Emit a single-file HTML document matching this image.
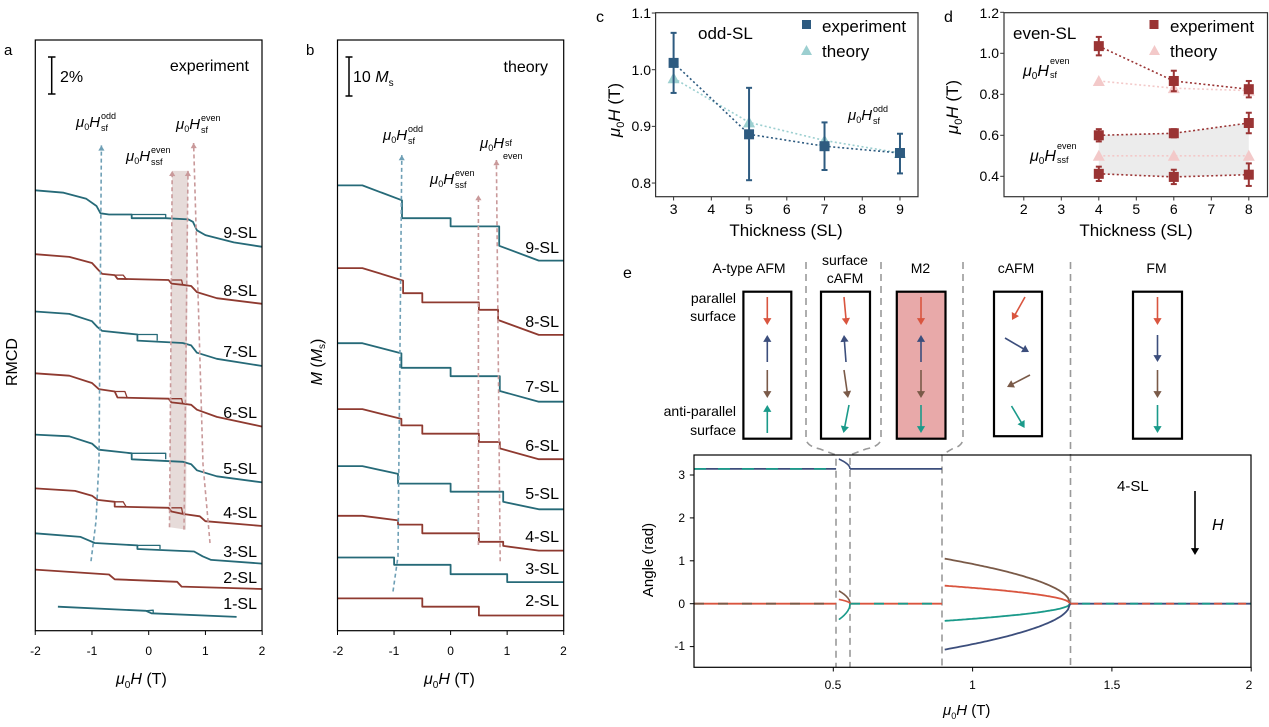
<!DOCTYPE html>
<html><head><meta charset="utf-8">
<style>
html,body{margin:0;padding:0;background:#fff;}
svg{display:block;font-family:"Liberation Sans",Arial,sans-serif;}
</style></head>
<body>
<svg id="s" width="1269" height="727" viewBox="0 0 1269 727" xmlns="http://www.w3.org/2000/svg">
<rect width="1269" height="727" fill="#fff"/>
<g id="dyn"></g>

<text x="4" y="55" font-size="15">a</text>
<line x1="51.7" y1="57" x2="51.7" y2="94" stroke="#000" stroke-width="1.5"/>
<line x1="48" y1="57" x2="55.5" y2="57" stroke="#000" stroke-width="1.5"/>
<line x1="48" y1="94" x2="55.5" y2="94" stroke="#000" stroke-width="1.5"/>
<text x="60" y="82" font-size="16">2%</text>
<text x="249" y="71" font-size="16" text-anchor="end">experiment</text>
<text font-size="16" text-anchor="middle" transform="translate(17,362) rotate(-90)">RMCD</text>
<g font-size="16" text-anchor="end">
<text x="257" y="238">9-SL</text><text x="257" y="296">8-SL</text><text x="257" y="357">7-SL</text>
<text x="257" y="418">6-SL</text><text x="257" y="474">5-SL</text><text x="257" y="518">4-SL</text>
<text x="257" y="557">3-SL</text><text x="257" y="583">2-SL</text><text x="257" y="609">1-SL</text>
</g>
<g font-size="12" text-anchor="middle">
<text x="35.5" y="655">-2</text><text x="92" y="655">-1</text><text x="148.7" y="655">0</text><text x="205.4" y="655">1</text><text x="262" y="655">2</text>
</g>
<text x="116" y="684" font-size="16" font-style="italic">μ<tspan font-size="10" dy="4" font-style="normal">0</tspan><tspan dy="-4">H</tspan><tspan font-style="normal"> (T)</tspan></text>
<text x="76" y="127" font-size="15" font-style="italic">μ<tspan font-size="9" dy="3" font-style="normal">0</tspan><tspan dy="-3">H</tspan></text>
<text x="101" y="119" font-size="9">odd</text><text x="101" y="131" font-size="9">sf</text>
<text x="126" y="161" font-size="15" font-style="italic">μ<tspan font-size="9" dy="3" font-style="normal">0</tspan><tspan dy="-3">H</tspan></text>
<text x="151" y="153" font-size="9">even</text><text x="151" y="165" font-size="9">ssf</text>
<text x="176" y="129" font-size="15" font-style="italic">μ<tspan font-size="9" dy="3" font-style="normal">0</tspan><tspan dy="-3">H</tspan></text>
<text x="201" y="121" font-size="9">even</text><text x="201" y="133" font-size="9">sf</text>

<text x="306" y="55" font-size="15">b</text>
<line x1="349" y1="57" x2="349" y2="96" stroke="#000" stroke-width="1.5"/>
<line x1="345.5" y1="57" x2="352.5" y2="57" stroke="#000" stroke-width="1.5"/>
<line x1="345.5" y1="96" x2="352.5" y2="96" stroke="#000" stroke-width="1.5"/>
<text x="353" y="82" font-size="16">10 <tspan font-style="italic">M</tspan><tspan font-size="10" dy="4">s</tspan></text>
<text x="548" y="72" font-size="16" text-anchor="end">theory</text>
<text font-size="16" text-anchor="middle" transform="translate(322,362) rotate(-90)"><tspan font-style="italic">M</tspan> (<tspan font-style="italic">M</tspan><tspan font-size="10" dy="3">s</tspan><tspan dy="-3">)</tspan></text>
<g font-size="16" text-anchor="end">
<text x="559" y="253">9-SL</text><text x="559" y="327">8-SL</text><text x="559" y="392">7-SL</text>
<text x="559" y="451">6-SL</text><text x="559" y="499">5-SL</text><text x="559" y="542">4-SL</text>
<text x="559" y="574">3-SL</text><text x="559" y="606">2-SL</text>
</g>
<g font-size="12" text-anchor="middle">
<text x="338" y="655">-2</text><text x="394" y="655">-1</text><text x="450.6" y="655">0</text><text x="507" y="655">1</text><text x="563.5" y="655">2</text>
</g>
<text x="424" y="684" font-size="16" font-style="italic">μ<tspan font-size="10" dy="4" font-style="normal">0</tspan><tspan dy="-4">H</tspan><tspan font-style="normal"> (T)</tspan></text>
<text x="383" y="140" font-size="15" font-style="italic">μ<tspan font-size="9" dy="3" font-style="normal">0</tspan><tspan dy="-3">H</tspan></text>
<text x="408" y="132" font-size="9">odd</text><text x="408" y="144" font-size="9">sf</text>
<text x="430" y="184" font-size="15" font-style="italic">μ<tspan font-size="9" dy="3" font-style="normal">0</tspan><tspan dy="-3">H</tspan></text>
<text x="455" y="176" font-size="9">even</text><text x="455" y="188" font-size="9">ssf</text>
<text x="480" y="148" font-size="15" font-style="italic">μ<tspan font-size="9" dy="3" font-style="normal">0</tspan><tspan dy="-3">H</tspan></text>
<text x="505" y="146" font-size="9">sf</text><text x="503" y="159" font-size="9">even</text>

<text x="596" y="22" font-size="16">c</text>
<g font-size="14" text-anchor="end">
<text x="651" y="18">1.1</text><text x="651" y="75">1.0</text><text x="651" y="131">0.9</text><text x="651" y="188">0.8</text>
</g>
<g font-size="14" text-anchor="middle">
<text x="673.6" y="214">3</text><text x="711.3" y="214">4</text><text x="749" y="214">5</text><text x="786.8" y="214">6</text><text x="824.5" y="214">7</text><text x="862.2" y="214">8</text><text x="900" y="214">9</text>
</g>
<text x="786" y="236" font-size="17" text-anchor="middle">Thickness (SL)</text>
<text font-size="17" font-style="italic" text-anchor="middle" transform="translate(620,110) rotate(-90)">μ<tspan font-size="11" dy="4" font-style="normal">0</tspan><tspan dy="-4">H</tspan><tspan font-style="normal"> (T)</tspan></text>
<text x="698" y="39" font-size="17">odd-SL</text>
<rect x="802" y="20" width="9" height="9" fill="#2e5b80"/>
<text x="822" y="32" font-size="17">experiment</text>
<polygon points="801,55 806.5,45 812,55" fill="#9ccfd0"/>
<text x="822" y="57" font-size="17">theory</text>
<text x="848" y="120" font-size="15" font-style="italic">μ<tspan font-size="9" dy="3" font-style="normal">0</tspan><tspan dy="-3">H</tspan></text>
<text x="873" y="112" font-size="9">odd</text><text x="873" y="124" font-size="9">sf</text>

<text x="944" y="22" font-size="16">d</text>
<g font-size="14" text-anchor="end">
<text x="999" y="18">1.2</text><text x="999" y="58">1.0</text><text x="999" y="99">0.8</text><text x="999" y="140">0.6</text><text x="999" y="181">0.4</text>
</g>
<g font-size="14" text-anchor="middle">
<text x="1023.8" y="214">2</text><text x="1061.3" y="214">3</text><text x="1098.8" y="214">4</text><text x="1136.3" y="214">5</text><text x="1173.8" y="214">6</text><text x="1211.3" y="214">7</text><text x="1248.8" y="214">8</text>
</g>
<text x="1136" y="236" font-size="17" text-anchor="middle">Thickness (SL)</text>
<text font-size="17" font-style="italic" text-anchor="middle" transform="translate(958,107) rotate(-90)">μ<tspan font-size="11" dy="4" font-style="normal">0</tspan><tspan dy="-4">H</tspan><tspan font-style="normal"> (T)</tspan></text>
<text x="1013" y="39" font-size="17">even-SL</text>
<rect x="1149.5" y="20" width="9" height="9" fill="#9a3434"/>
<text x="1170" y="32" font-size="17">experiment</text>
<polygon points="1149,55 1154.5,45 1160,55" fill="#f3c9c9"/>
<text x="1170" y="57" font-size="17">theory</text>
<text x="1023" y="76" font-size="16" font-style="italic">μ<tspan font-size="10" dy="3" font-style="normal">0</tspan><tspan dy="-3">H</tspan></text>
<text x="1050" y="64" font-size="9">even</text><text x="1050" y="78" font-size="9">sf</text>
<text x="1030" y="161" font-size="16" font-style="italic">μ<tspan font-size="10" dy="3" font-style="normal">0</tspan><tspan dy="-3">H</tspan></text>
<text x="1057" y="149" font-size="9">even</text><text x="1057" y="163" font-size="9">ssf</text>

<text x="623" y="278" font-size="16">e</text>
<g font-size="14" text-anchor="middle">
<text x="749" y="273">A-type AFM</text>
<text x="845" y="265">surface</text><text x="845" y="283">cAFM</text>
<text x="920.5" y="273">M2</text>
<text x="1016" y="273">cAFM</text>
<text x="1156.5" y="273">FM</text>
</g>
<g font-size="14" text-anchor="end">
<text x="736" y="303">parallel</text><text x="736" y="321">surface</text>
<text x="736" y="416">anti-parallel</text><text x="736" y="435">surface</text>
</g>
<g font-size="12" text-anchor="end">
<text x="685" y="479">3</text><text x="685" y="522">2</text><text x="685" y="565">1</text><text x="685" y="608">0</text><text x="685" y="650">-1</text>
</g>
<g font-size="12" text-anchor="middle">
<text x="833" y="689">0.5</text><text x="972.5" y="689">1</text><text x="1112" y="689">1.5</text><text x="1249" y="689">2</text>
</g>
<text x="943" y="715" font-size="15" font-style="italic">μ<tspan font-size="9" dy="4" font-style="normal">0</tspan><tspan dy="-4">H</tspan><tspan font-style="normal"> (T)</tspan></text>
<text font-size="15" text-anchor="middle" transform="translate(653,560) rotate(-90)">Angle (rad)</text>
<text x="1117" y="491" font-size="15">4-SL</text>
<text x="1212" y="530" font-size="16" font-style="italic">H</text>
</svg>
<script>
(function(){
var g=document.getElementById('dyn');var out='';
function P(pts,fx,fy){return 'M'+pts.map(function(p){return fx(p[0]).toFixed(1)+','+fy(p[1]).toFixed(1);}).join('L');}
function path(d,c,w,extra){out+='<path d="'+d+'" fill="none" stroke="'+c+'" stroke-width="'+w+'" stroke-linejoin="round" '+(extra||'')+'/>';}
var TEAL='#266a78',RED='#8f3a30',K=1.212;
var xa=function(H){return 148.7+56.73*H;},ya=function(y){return y*K;};
var A=[
[TEAL,[[-2,157],[-1.5,159],[-1.1,164],[-0.92,170],[-0.85,176],[-0.7,177],[-0.3,177],[-0.3,180],[0.3,180],[0.7,181],[0.78,183],[0.85,190],[1.0,194],[1.5,200],[2,203.6]],[[-0.3,177],[0.3,177],[0.3,180]]],
[RED,[[-2,209.7],[-1.4,212],[-1,217],[-0.9,222],[-0.82,226],[-0.6,227],[-0.55,230],[0.35,231],[0.4,234],[0.6,235],[0.75,236],[0.85,241],[1.2,246],[2,250.7]],[[-0.6,227],[-0.45,227],[-0.4,230]]],
[TEAL,[[-2,257],[-1.4,259],[-1.0,265],[-0.9,270],[-0.82,273],[-0.2,276],[-0.2,281],[0.6,283],[0.75,285],[0.85,291],[1.2,296],[2,302]],[[-0.2,276],[0.15,276],[0.15,281]]],
[RED,[[-2,308],[-1.4,310],[-1,316],[-0.88,321],[-0.6,323],[-0.55,328],[0.35,329],[0.4,332],[0.6,333],[0.75,334],[0.85,338],[1.2,344],[2,352]],[[-0.6,323],[-0.42,323],[-0.38,328]]],
[TEAL,[[-2,358.6],[-1.4,360],[-1,366],[-0.88,371],[-0.3,374],[-0.3,379],[0.6,381],[0.75,383],[0.85,388],[1.2,393],[2,398]],[[-0.3,374],[0.3,374],[0.3,379]]],
[RED,[[-2,403],[-1.3,405],[-1,409],[-0.9,412.5],[-0.6,414],[-0.6,418],[0.35,419],[0.4,422],[0.6,424],[0.9,426],[1.0,430],[2,434]],[[-0.6,414],[-0.45,414],[-0.4,418]]],
[TEAL,[[-2,440],[-1.2,443],[-1.05,446],[-0.95,448],[-0.2,450],[-0.2,453],[0.8,455],[0.95,459],[1.1,462],[2,465]],[[-0.2,450],[0.2,450],[0.2,453]]],
[RED,[[-2,470],[-0.7,474],[-0.6,478],[0.5,480],[0.58,484],[2,486]],null],
[TEAL,[[-1.6,500.6],[-0.05,504],[0.05,506],[1.55,509]],[[-0.05,504],[0.08,503.5],[0.08,506]]]
];
out+='<polygon points="'+[[169.5,435],[186,437],[188,141],[172.2,141]].map(function(p){return p[0]+','+(p[1]*K).toFixed(1);}).join(' ')+'" fill="#e6dbd9"/>';
A.forEach(function(c){path(P(c[1],xa,ya),c[0],1.8);if(c[2])path(P(c[2],xa,ya),c[0],1.3);});
[[231,235],[329,333],[419,424]].forEach(function(l){path(P([[0.4,l[0]],[0.58,l[0]],[0.6,l[1]]],xa,ya),RED,1.3);});
function arrowHead(x,y,ang,c,s){s=s||5;var a1=ang+2.6,a2=ang-2.6;out+='<polygon points="'+x+','+y+' '+(x+s*Math.cos(a1)).toFixed(1)+','+(y+s*Math.sin(a1)).toFixed(1)+' '+(x+s*Math.cos(a2)).toFixed(1)+','+(y+s*Math.sin(a2)).toFixed(1)+'" fill="'+c+'"/>';}
function dashArrow(pts,c){var q=pts.map(function(p){return [p[0],p[1]*K];});path('M'+q.map(function(p){return p[0].toFixed(1)+','+p[1].toFixed(1);}).join('L'),c,1.6,'stroke-dasharray="4,3"');var n=q.length,a=q[n-1],b=q[n-2];arrowHead(a[0],a[1],Math.atan2(a[1]-b[1],a[0]-b[0]),c,6);}
var BL='#6e9fb5',PK='#c9999a';
dashArrow([[91,463],[96,430],[99,380],[101.4,120]],BL);
dashArrow([[169.5,435],[172.2,141]],PK);
dashArrow([[184,437],[188,141]],PK);
dashArrow([[210,448],[203,383],[193.6,118]],PK);
out+='<rect x="35.3" y="40" width="226.7" height="590.7" fill="none" stroke="#000" stroke-width="1.2"/>';
[-2,-1,0,1,2].forEach(function(H){var x=xa(H);out+='<line x1="'+x+'" y1="630.7" x2="'+x+'" y2="635" stroke="#000"/>';});
var xb=function(H){return 450.6+56.55*H;};
function odd(s,h,a,b,c,d,e,f){return [[-2,a],[-1.56,a],[-h,b],[-h,c],[0,c],[0,d],[h,d],[h,e],[1.56,f],[2,f]];}
function even(s,h,a,b,c,d,e,f,g){return [[-2,a],[-1.56,a],[-h,b],[-h,c],[-0.5,c],[-0.5,d],[0.5,d],[0.5,e],[h,e],[h,f],[1.56,g],[2,g]];}
var B=[
[TEAL,odd(0,0.86,153,165.3,180,186.8,202.8,215)],
[RED,even(0,0.84,221.2,231.5,241.9,249.5,255.6,264,276.3)],
[TEAL,odd(0,0.87,283.2,291.6,303.5,310.4,322.6,331.4)],
[RED,even(0,0.87,337.5,345.6,351,357.8,364.7,370,378.9)],
[TEAL,odd(0,0.93,384.6,391,399,405.7,414,420.2)],
[RED,even(0,0.93,425.6,429.4,432.8,440,447,450.4,454.3)],
[TEAL,[[-2,460],[-1.0,460],[-1.0,466],[0,466],[0,473.8],[1.0,473.8],[1.0,480.3],[2,480.3]]],
[RED,[[-2,493.7],[-0.5,493.7],[-0.5,500.6],[0.5,500.6],[0.5,507.8],[2,507.8]]]
];
B.forEach(function(c){path(P(c[1],xb,ya),c[0],1.8);});
dashArrow([[393,488],[398,459],[401.8,128]],BL);
dashArrow([[478.4,449.7],[478.4,161]],PK);
dashArrow([[500.2,463],[496.4,132]],PK);
out+='<rect x="337.5" y="40" width="226.2" height="590.7" fill="none" stroke="#000" stroke-width="1.2"/>';
[-2,-1,0,1,2].forEach(function(H){var x=xb(H);out+='<line x1="'+x+'" y1="630.7" x2="'+x+'" y2="635" stroke="#000"/>';});
var xc=function(t){return 673.6+37.73*(t-3);},yc=function(v){return 69.7-566.7*(v-1);};
var CB='#2e5b80',CT='#9ccfd0';
var ct=[[3,0.985],[5,0.907],[7,0.875],[9,0.853]];
var ce=[[3,1.012,0.959,1.065],[5,0.886,0.805,0.968],[7,0.865,0.823,0.907],[9,0.853,0.817,0.887]];
path(P(ct,xc,yc),CT,1.6,'stroke-dasharray="2,2.5"');
path(P(ce,xc,yc),CB,1.6,'stroke-dasharray="2,2.5"');
ct.forEach(function(p){var x=xc(p[0]),y=yc(p[1]);out+='<polygon points="'+(x-6)+','+(y+5)+' '+x+','+(y-6)+' '+(x+6)+','+(y+5)+'" fill="'+CT+'"/>';});
ce.forEach(function(p){var x=xc(p[0]);out+='<line x1="'+x+'" y1="'+yc(p[2])+'" x2="'+x+'" y2="'+yc(p[3])+'" stroke="'+CB+'" stroke-width="2"/><line x1="'+(x-3)+'" y1="'+yc(p[2])+'" x2="'+(x+3)+'" y2="'+yc(p[2])+'" stroke="'+CB+'" stroke-width="2"/><line x1="'+(x-3)+'" y1="'+yc(p[3])+'" x2="'+(x+3)+'" y2="'+yc(p[3])+'" stroke="'+CB+'" stroke-width="2"/><rect x="'+(x-5)+'" y="'+(yc(p[1])-5)+'" width="10" height="10" fill="'+CB+'"/>';});
out+='<rect x="655.6" y="12.7" width="262.4" height="184" fill="none" stroke="#333" stroke-width="1.2"/>';
[3,4,5,6,7,8,9].forEach(function(t){var x=xc(t);out+='<line x1="'+x+'" y1="196.7" x2="'+x+'" y2="200.5" stroke="#333"/>';});
[0.8,0.9,1.0,1.1].forEach(function(v){var y=yc(v);out+='<line x1="651.8" y1="'+y+'" x2="655.6" y2="'+y+'" stroke="#333"/>';});
var xd=function(t){return 1023.8+37.5*(t-2);},yd=function(v){return 53.3-205*(v-1);};
var DR='#9a3434',DP='#f3c9c9';
var up=[[4,0.600,0.57,0.63],[6,0.610,0.59,0.63],[8,0.660,0.61,0.71]];
var lo=[[4,0.412,0.377,0.447],[6,0.397,0.362,0.432],[8,0.408,0.353,0.463]];
var sf=[[4,1.035,0.99,1.08],[6,0.865,0.815,0.915],[8,0.825,0.785,0.865]];
out+='<polygon points="'+up.map(function(p){return xd(p[0])+','+yd(p[1]);}).join(' ')+' '+lo.slice().reverse().map(function(p){return xd(p[0])+','+yd(p[1]);}).join(' ')+'" fill="#ececec"/>';
var ts=[[4,0.865],[6,0.83],[8,0.818]],tss=[[4,0.5],[6,0.5],[8,0.5]];
[ts,tss].forEach(function(a){path(P(a,xd,yd),DP,1.6,'stroke-dasharray="2,2.5"');a.forEach(function(p){var x=xd(p[0]),y=yd(p[1]);out+='<polygon points="'+(x-6)+','+(y+5)+' '+x+','+(y-6)+' '+(x+6)+','+(y+5)+'" fill="'+DP+'"/>';});});
[sf,up,lo].forEach(function(a){path(P(a,xd,yd),DR,1.6,'stroke-dasharray="2,2.5"');a.forEach(function(p){var x=xd(p[0]);out+='<line x1="'+x+'" y1="'+yd(p[2])+'" x2="'+x+'" y2="'+yd(p[3])+'" stroke="'+DR+'" stroke-width="2"/><line x1="'+(x-3)+'" y1="'+yd(p[2])+'" x2="'+(x+3)+'" y2="'+yd(p[2])+'" stroke="'+DR+'" stroke-width="2"/><line x1="'+(x-3)+'" y1="'+yd(p[3])+'" x2="'+(x+3)+'" y2="'+yd(p[3])+'" stroke="'+DR+'" stroke-width="2"/><rect x="'+(x-5)+'" y="'+(yd(p[1])-5)+'" width="10" height="10" fill="'+DR+'"/>';});});
out+='<rect x="1004" y="12.7" width="263.5" height="184" fill="none" stroke="#333" stroke-width="1.2"/>';
[2,3,4,5,6,7,8].forEach(function(t){var x=xd(t);out+='<line x1="'+x+'" y1="196.7" x2="'+x+'" y2="200.5" stroke="#333"/>';});
[0.4,0.6,0.8,1.0,1.2].forEach(function(v){var y=yd(v);out+='<line x1="1000.2" y1="'+y+'" x2="1004" y2="'+y+'" stroke="#333"/>';});
var GR='#9a9a9a';
var dash='stroke-dasharray="7,5"';
path('M806,262 L806,438 Q806,446 820,449 L836,455 L836,667',GR,1.6,dash);
path('M881,262 L881,438 Q881,446 866,449 L850,455 L850,667',GR,1.6,dash);
path('M963,262 L963,438 Q963,446 952,449 L942,455 L942,667',GR,1.6,dash);
path('M1070.5,262 L1070.5,667',GR,1.6,dash);
out+='<rect x="896.8" y="291.7" width="48.7" height="147" fill="#e8a9a9"/>';
[[743.4,291.7,47.9,147],[821,291.7,49,147],[896.8,291.7,48.7,147],[994,291.7,48,144.5],[1133,291.7,49,147]].forEach(function(b){out+='<rect x="'+b[0]+'" y="'+b[1]+'" width="'+b[2]+'" height="'+b[3]+'" fill="none" stroke="#000" stroke-width="2.2"/>';});
var AR='#d9553f',AN='#3c4e7c',AB='#7a5a48',AT='#1a9a8a';
function arr(x1,y1,x2,y2,c){var a=Math.atan2(y2-y1,x2-x1);var bx=x2-6*Math.cos(a),by=y2-6*Math.sin(a);out+='<line x1="'+x1+'" y1="'+y1+'" x2="'+bx.toFixed(1)+'" y2="'+by.toFixed(1)+'" stroke="'+c+'" stroke-width="1.6"/>';arrowHead(x2,y2,a,c,8);}
function col(cx,dirs,c4){var ys=[[297,325],[335,362],[370,398],[405,433]];dirs.forEach(function(d,i){var y=ys[i];if(d>0)arr(cx,y[1],cx,y[0],c4[i]);else arr(cx,y[0],cx,y[1],c4[i]);});}
var C4=[AR,AN,AB,AT];
col(767.3,[-1,1,-1,1],C4);
arr(844,297,846.5,325,AR);arr(846,362,844,335,AN);arr(844,370,848,398,AB);arr(849,405,843.5,433,AT);
col(921,[-1,1,-1,-1],C4);
arr(1025,297,1012,320,AR);arr(1005,338,1029,352,AN);arr(1030,375,1007,387,AB);arr(1011.5,406,1024.6,428,AT);
col(1157.5,[-1,-1,-1,-1],C4);
var xe=function(H){return 694+278.6*H;},ye=function(t){return 603.7-42.9*t;};
function seg(f,h0,h1,c,w,ex){var pts=[];for(var i=0;i<=60;i++){var h=h0+(h1-h0)*i/60;pts.push([h,f(h)]);}path(P(pts,xe,ye),c,w||1.8,ex);}
var PI=Math.PI;
seg(function(){return PI;},0,0.51,AN);seg(function(){return PI;},0,0.51,AT,1.8,'stroke-dasharray="12,12"');
seg(function(){return PI;},0.56,0.89,AN);
seg(function(){return 0;},0,0.51,AR);seg(function(){return 0;},0,0.51,AB,1.8,'stroke-dasharray="10,14"');
seg(function(){return 0;},0.56,0.89,AR);seg(function(){return 0;},0.56,0.89,AT,1.8,'stroke-dasharray="10,14"');
seg(function(){return 0;},1.35,2,AN);seg(function(){return 0;},1.35,2,AR,1.8,'stroke-dasharray="8,16"');seg(function(){return 0;},1.35,2,AT,1.8,'stroke-dasharray="8,16" stroke-dashoffset="12"');
function sq(a,h0,h1){return function(h){return a*Math.sqrt(Math.max(0,(h1-h)/(h1-h0)));};}
seg(function(h){return PI+sq(0.23,0.52,0.56)(h);},0.52,0.56,AN,1.6);
seg(sq(0.3,0.52,0.56),0.52,0.56,AB,1.6);seg(sq(0.1,0.52,0.56),0.52,0.56,AR,1.6);seg(sq(-0.37,0.52,0.56),0.52,0.56,AT,1.6);
seg(sq(1.05,0.9,1.35),0.9,1.35,AB);seg(sq(0.42,0.9,1.35),0.9,1.35,AR);seg(sq(-0.4,0.9,1.35),0.9,1.35,AT);seg(sq(-1.07,0.9,1.35),0.9,1.35,AN);
out+='<rect x="694" y="455" width="557" height="212.3" fill="none" stroke="#000" stroke-width="1.2"/>';
[0.5,1,1.5,2].forEach(function(H){var x=xe(H);out+='<line x1="'+x+'" y1="667.3" x2="'+x+'" y2="671.5" stroke="#000"/>';});
[-1,0,1,2,3].forEach(function(t){var y=ye(t);out+='<line x1="689.8" y1="'+y+'" x2="694" y2="'+y+'" stroke="#000"/>';});
arr(1195,491,1195,555,'#000');
g.innerHTML=out;
})();
</script>
</body></html>
